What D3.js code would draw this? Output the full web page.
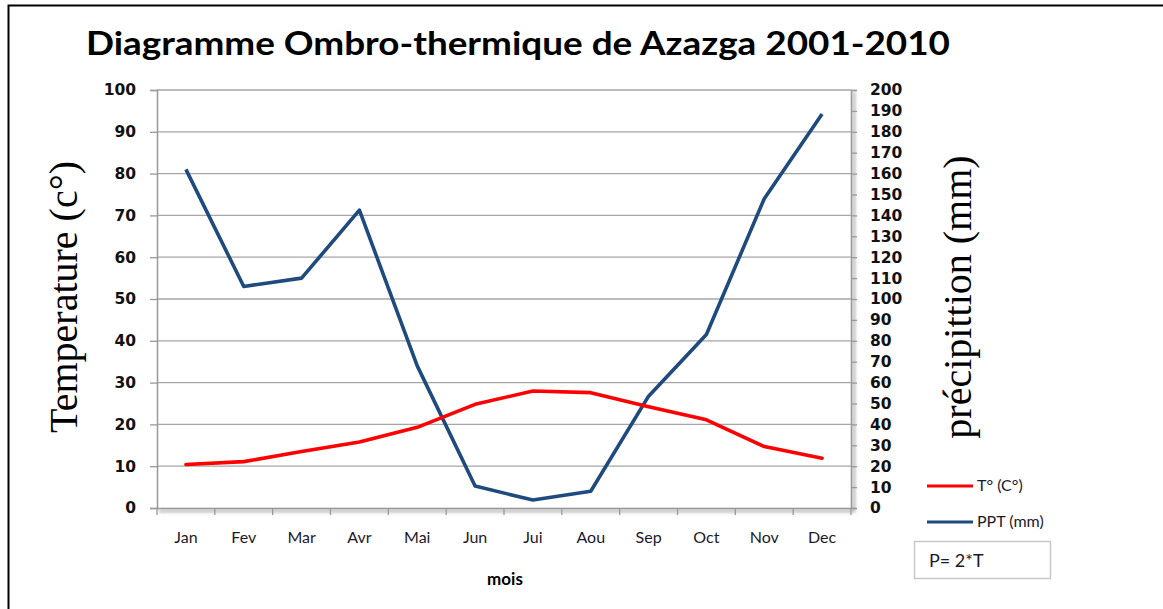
<!DOCTYPE html>
<html>
<head>
<meta charset="utf-8">
<script src="https://cdn.jsdelivr.net/npm/d3@7"></script>
<style>
  body { margin: 0; background: #fff; }
  svg { display: block; }
</style>
</head>
<body>
<svg width="1163" height="609"></svg>
<script>
var months = ['Jan', 'Fev', 'Mar', 'Avr', 'Mai', 'Jun', 'Jui', 'Aou', 'Sep', 'Oct', 'Nov', 'Dec'];
var temperature = [10.4, 11.1, 13.5, 15.8, 19.3, 24.8, 28.0, 27.6, 24.2, 21.1, 14.7, 11.9];
var precipitation = [162, 106, 110, 142.5, 68, 10.5, 3.8, 8, 53.5, 83, 148, 188.5];
var tempTicks = d3.range(0, 101, 10);
var pptTicks = d3.range(0, 201, 10);

var svg = d3.select('svg'),
  width = +svg.attr('width'),
  height = +svg.attr('height');

var margin = { left: 157, right: 851, top: 90, bottom: 508 };

var x = d3.scaleBand()
  .domain(months)
  .range([margin.left, margin.right]);

var yT = d3.scaleLinear().domain([0, 100]).range([margin.bottom, margin.top]);
var yP = d3.scaleLinear().domain([0, 200]).range([margin.bottom, margin.top]);

// outer frame (left + top only)
svg.append('path')
  .attr('d', 'M8.5,609 L8.5,5.5 L1163,5.5')
  .attr('fill', 'none')
  .attr('stroke', '#000')
  .attr('stroke-width', 2);

// title
svg.append('text')
  .attr('x', 86)
  .attr('y', 55)
  .attr('font-family', 'Lato, "Open Sans", sans-serif')
  .attr('font-weight', 'bold')
  .attr('font-size', 33)
  .attr('textLength', 864)
  .attr('lengthAdjust', 'spacingAndGlyphs')
  .attr('fill', '#000')
  .text('Diagramme Ombro-thermique de Azazga 2001-2010');

// shadow of plot area
var defs = svg.append('defs');
defs.append('filter').attr('id', 'blur')
  .append('feGaussianBlur').attr('stdDeviation', 1.6);
svg.append('path')
  .attr('d', 'M' + (margin.left + 2) + ',' + (margin.bottom + 3) + ' L' + (margin.right + 3) + ',' + (margin.bottom + 3) + ' L' + (margin.right + 3) + ',' + (margin.top + 2))
  .attr('fill', 'none')
  .attr('stroke', '#bbb')
  .attr('stroke-width', 3)
  .attr('filter', 'url(#blur)');

// gridlines
svg.append('g')
  .selectAll('line')
  .data(tempTicks.slice(1))
  .enter().append('line')
  .attr('x1', margin.left)
  .attr('x2', margin.right)
  .attr('y1', function(d) { return yT(d); })
  .attr('y2', function(d) { return yT(d); })
  .attr('stroke', '#a6a6a6')
  .attr('stroke-width', 1.3);

// left axis
var leftAxis = svg.append('g')
  .attr('transform', 'translate(' + margin.left + ',0)')
  .call(d3.axisLeft(yT).tickValues(tempTicks).tickSize(7).tickPadding(14));
leftAxis.select('.domain').attr('stroke', '#999').attr('stroke-width', 1.5);
leftAxis.selectAll('.tick line').attr('stroke', '#999').attr('stroke-width', 1.3);
leftAxis.selectAll('text')
  .attr('font-family', '"DejaVu Sans", sans-serif')
  .attr('font-weight', 'bold')
  .attr('font-size', 15.5)
  .attr('fill', '#111');

// right axis
var rightAxis = svg.append('g')
  .attr('transform', 'translate(' + margin.right + ',0)')
  .call(d3.axisRight(yP).tickValues(pptTicks).tickSize(6).tickPadding(13));
rightAxis.select('.domain').attr('stroke', '#999').attr('stroke-width', 1.5);
rightAxis.selectAll('.tick line').attr('stroke', '#999').attr('stroke-width', 1.3);
rightAxis.selectAll('text')
  .attr('font-family', '"DejaVu Sans", sans-serif')
  .attr('font-weight', 'bold')
  .attr('font-size', 15.5)
  .attr('fill', '#111');

// bottom axis
var bottomAxis = svg.append('g')
  .attr('transform', 'translate(0,' + margin.bottom + ')')
  .call(d3.axisBottom(x).tickSize(0).tickPadding(24));
bottomAxis.select('.domain').attr('stroke', '#999').attr('stroke-width', 1.5);
bottomAxis.selectAll('text')
  .attr('font-family', 'Lato, sans-serif')
  .attr('font-size', 16)
  .attr('fill', '#1a1a2a');
svg.append('g')
  .selectAll('line')
  .data(months.concat(['end']))
  .enter().append('line')
  .attr('x1', function(d, i) { return margin.left + i * x.bandwidth(); })
  .attr('x2', function(d, i) { return margin.left + i * x.bandwidth(); })
  .attr('y1', margin.bottom)
  .attr('y2', margin.bottom + 7)
  .attr('stroke', '#999')
  .attr('stroke-width', 1.3);

// axis titles
svg.append('text')
  .attr('transform', 'translate(77,297) rotate(-90)')
  .attr('text-anchor', 'middle')
  .attr('font-family', '"Liberation Serif", "Times New Roman", serif')
  .attr('font-size', 40)
  .text('Temperature (c°)');

svg.append('text')
  .attr('transform', 'translate(971,297) rotate(-90)')
  .attr('text-anchor', 'middle')
  .attr('font-family', '"Liberation Serif", "Times New Roman", serif')
  .attr('font-size', 40)
  .text('précipittion (mm)');

svg.append('text')
  .attr('x', 505)
  .attr('y', 585)
  .attr('text-anchor', 'middle')
  .attr('font-family', 'Lato, sans-serif')
  .attr('font-weight', 'bold')
  .attr('font-size', 17)
  .text('mois');

// series
var cx = function(d, i) { return x(months[i]) + x.bandwidth() / 2; };

svg.append('path')
  .datum(precipitation)
  .attr('fill', 'none')
  .attr('stroke', '#1F4A7E')
  .attr('stroke-width', 3.6)
  .attr('stroke-linejoin', 'round')
  .attr('d', d3.line().x(cx).y(function(d) { return yP(d); }));

svg.append('path')
  .datum(temperature)
  .attr('fill', 'none')
  .attr('stroke', '#FF0000')
  .attr('stroke-width', 3.6)
  .attr('stroke-linejoin', 'round')
  .attr('stroke-linecap', 'round')
  .attr('d', d3.line().x(cx).y(function(d) { return yT(d); }));

// legend
var legend = [
  { label: 'T° (C°)', color: '#FF0000', y: 486 },
  { label: 'PPT (mm)', color: '#1F4A7E', y: 522 }
];
var lg = svg.append('g').selectAll('g').data(legend).enter().append('g');
lg.append('line')
  .attr('x1', 927).attr('x2', 973)
  .attr('y1', function(d) { return d.y; })
  .attr('y2', function(d) { return d.y; })
  .attr('stroke', function(d) { return d.color; })
  .attr('stroke-width', 3);
lg.append('text')
  .attr('x', 977)
  .attr('y', function(d) { return d.y + 5; })
  .attr('font-family', 'Lato, sans-serif')
  .attr('font-size', 16)
  .attr('fill', '#1a1a2a')
  .text(function(d) { return d.label; });

svg.append('rect')
  .attr('x', 914.5).attr('y', 541.5)
  .attr('width', 136).attr('height', 37)
  .attr('fill', '#fff')
  .attr('stroke', '#c8c8c8')
  .attr('stroke-width', 1.5);
svg.append('text')
  .attr('x', 929)
  .attr('y', 567)
  .attr('font-family', 'Lato, sans-serif')
  .attr('font-size', 18)
  .attr('fill', '#1a1a2a')
  .text('P= 2*T');
</script>
</body>
</html>
